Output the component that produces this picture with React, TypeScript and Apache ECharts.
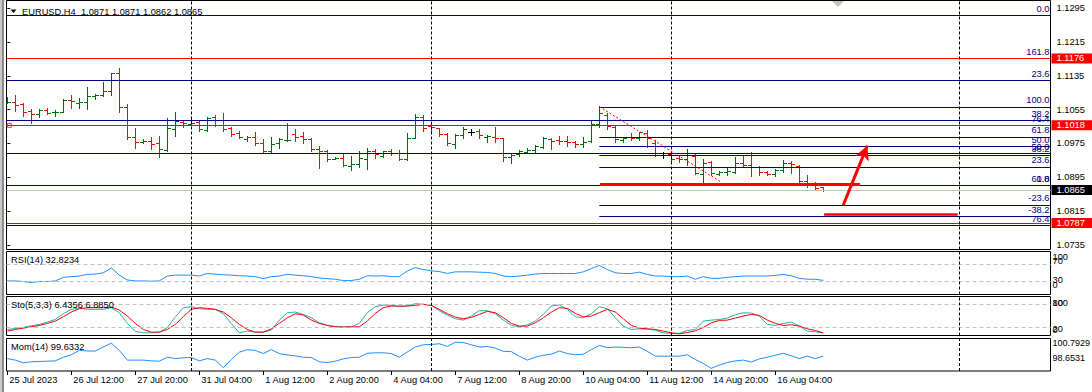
import React, { useEffect, useRef } from "react";
import * as echarts from "echarts";

// ---------- DATA ----------
const opens = [1.10699,1.10723,1.10691,1.10510,1.10447,1.10542,1.10487,1.10494,1.10778,1.10715,1.10723,1.10880,1.10888,1.10991,1.11408,1.10605,1.09911,1.09777,1.09817,1.09769,1.09596,1.10093,1.10258,1.10211,1.10258,1.10069,1.10376,1.10305,1.10108,1.09990,1.09848,1.09896,1.09754,1.09580,1.09754,1.09825,1.09966,1.09927,1.09856,1.09612,1.09565,1.09391,1.09407,1.09218,1.09257,1.09375,1.09565,1.09462,1.09565,1.09517,1.09383,1.09888,1.10368,1.10163,1.10108,1.09974,1.09746,1.09959,1.10014,1.10045,1.09911,1.09896,1.09872,1.09430,1.09494,1.09541,1.09588,1.09675,1.09856,1.09833,1.09809,1.09777,1.09730,1.09809,1.10203,1.10423,1.10148,1.09833,1.09911,1.09888,1.09990,1.09754,1.09478,1.09494,1.09415,1.09375,1.09462,1.09037,1.09305,1.09037,1.09068,1.09084,1.09281,1.09241,1.09202,1.09068,1.09037,1.09123,1.09281,1.09226,1.08863,1.08785,1.08710];
const highs = [1.10841,1.10904,1.10699,1.10557,1.10557,1.10581,1.10542,1.10794,1.10904,1.10833,1.11078,1.10928,1.11204,1.11424,1.11527,1.10684,1.10108,1.09848,1.09896,1.09927,1.10345,1.10487,1.10290,1.10329,1.10290,1.10368,1.10423,1.10463,1.10148,1.10045,1.09927,1.10022,1.09848,1.09896,1.09888,1.10242,1.10085,1.10029,1.09872,1.09691,1.09596,1.09438,1.09517,1.09454,1.09580,1.09635,1.09612,1.09580,1.09612,1.09596,1.09990,1.10447,1.10423,1.10226,1.10124,1.09990,1.09966,1.10132,1.10085,1.10085,1.09951,1.10132,1.09888,1.09494,1.09596,1.09651,1.09714,1.09896,1.09888,1.09935,1.09927,1.09809,1.09903,1.10297,1.10636,1.10463,1.10171,1.09888,1.09990,1.10029,1.10069,1.09833,1.09557,1.09557,1.09454,1.09620,1.09517,1.09383,1.09336,1.09100,1.09163,1.09439,1.09454,1.09541,1.09226,1.09100,1.09147,1.09360,1.09336,1.09241,1.09005,1.08832,1.08710];
const lows = [1.10699,1.10526,1.10408,1.10226,1.10368,1.10439,1.10400,1.10487,1.10581,1.10581,1.10573,1.10794,1.10880,1.10896,1.10487,1.09848,1.09651,1.09754,1.09612,1.09438,1.09572,1.09927,1.10148,1.10180,1.10053,1.10053,1.10171,1.10053,1.09927,1.09888,1.09817,1.09714,1.09517,1.09557,1.09635,1.09817,1.09817,1.09769,1.09580,1.09178,1.09344,1.09375,1.09218,1.09123,1.09202,1.09147,1.09399,1.09438,1.09478,1.09360,1.09360,1.09872,1.10045,1.10029,1.09935,1.09714,1.09651,1.09872,1.09951,1.09888,1.09777,1.09793,1.09344,1.09297,1.09454,1.09517,1.09557,1.09651,1.09620,1.09730,1.09699,1.09675,1.09675,1.09793,1.10132,1.10085,1.09777,1.09793,1.09833,1.09833,1.09675,1.09454,1.09399,1.09344,1.09320,1.09241,1.09021,1.08824,1.09005,1.09005,1.09005,1.09045,1.09202,1.08982,1.09005,1.09005,1.08989,1.09068,1.09060,1.08832,1.08729,1.08666,1.08620];
const closes = [1.10723,1.10660,1.10487,1.10447,1.10534,1.10479,1.10494,1.10778,1.10754,1.10723,1.10873,1.10896,1.10983,1.11408,1.10605,1.09911,1.09793,1.09817,1.09730,1.09612,1.10108,1.10282,1.10242,1.10226,1.10085,1.10360,1.10305,1.10093,1.09966,1.09896,1.09896,1.09754,1.09572,1.09738,1.09848,1.09840,1.09911,1.09848,1.09612,1.09580,1.09383,1.09407,1.09234,1.09257,1.09415,1.09580,1.09502,1.09565,1.09517,1.09383,1.09888,1.10368,1.10124,1.10132,1.09966,1.09754,1.09951,1.10085,1.10014,1.09951,1.09935,1.09872,1.09438,1.09478,1.09572,1.09596,1.09691,1.09872,1.09809,1.09809,1.09777,1.09730,1.09793,1.10203,1.10463,1.10171,1.09856,1.09872,1.09888,1.10014,1.09872,1.09478,1.09478,1.09383,1.09383,1.09478,1.09045,1.09281,1.09045,1.09068,1.09100,1.09281,1.09241,1.09202,1.09068,1.09037,1.09123,1.09281,1.09257,1.08863,1.08769,1.08700,1.08650];

const rsi = [31.6,31.6,30.1,27.8,30.1,30.0,31.6,39.9,41.5,43.0,46.8,47.4,50.4,61.7,45.1,33.9,31.6,31.6,30.9,31.6,43.0,45.1,45.1,45.1,43.0,48.9,47.4,45.9,45.1,43.6,43.0,41.5,36.9,41.5,43.0,46.8,45.1,43.6,41.5,38.4,36.9,35.4,32.4,32.4,35.4,43.6,43.0,43.6,41.5,41.5,54.9,62.5,58.0,55.0,53.4,48.9,52.7,52.7,52.7,51.9,51.2,48.9,43.0,41.5,43.0,45.1,47.4,48.9,48.9,48.9,48.9,48.9,52.7,60.2,67.7,58.0,50.4,48.9,48.9,51.9,46.6,43.0,43.0,41.5,41.5,43.0,35.4,41.5,37.6,37.6,39.9,41.5,43.0,43.0,43.0,43.0,44.3,46.8,43.6,37.6,35.4,35.4,32.8234];
const stoMain = [15.5,18.0,20.6,24.9,28.4,34.4,41.2,55.8,67.0,70.5,67.0,67.0,67.0,71.3,58.4,31.0,10.3,6.9,6.9,8.6,20.6,47.2,71.3,73.9,68.7,67.0,67.0,55.8,31.0,6.9,11.2,8.6,8.6,13.7,39.5,58.4,60.1,54.1,45.5,32.6,25.8,23.2,22.3,22.3,31.0,58.4,73.9,78.2,77.3,73.9,75.6,81.6,79.9,77.3,63.6,52.4,43.0,39.5,49.8,63.6,63.6,55.8,39.5,25.8,22.3,27.5,37.0,54.1,75.6,78.2,67.0,48.1,45.5,55.8,73.9,68.7,45.5,24.0,15.5,17.2,16.3,13.7,6.9,5.2,5.2,12.9,15.5,37.0,39.5,41.2,44.7,53.3,58.4,57.6,49.8,28.4,25.8,31.0,34.4,24.0,11.2,9.5,6.4356];
const stoSignal = [11.2,15.5,18.9,22.3,25.8,31.0,37.0,48.1,60.1,68.7,71.3,71.3,71.3,73.0,65.3,49.8,31.0,15.5,8.6,8.6,15.5,28.4,48.1,67.0,71.3,69.6,67.0,60.1,45.5,28.4,15.5,8.6,8.6,17.2,31.0,45.5,55.8,52.4,39.5,31.0,25.8,22.3,21.5,22.3,22.3,37.0,56.7,71.3,75.6,75.6,75.6,77.3,79.9,77.3,67.0,55.8,47.2,43.0,46.4,54.1,61.9,58.4,45.5,31.0,24.0,24.0,32.6,45.5,60.1,71.3,69.6,56.7,48.1,49.8,58.4,67.0,60.1,43.0,25.8,18.9,17.2,15.5,11.2,6.9,4.3,7.7,12.0,20.6,32.6,38.7,39.5,44.7,49.8,54.1,51.5,39.5,31.0,25.8,27.5,24.0,17.2,12.9,6.885];
const mom = [99.47,99.37,99.19,99.26,99.28,99.30,99.32,99.56,99.72,100.01,99.97,99.97,100.23,100.49,100.01,99.37,99.37,99.37,99.32,99.30,99.56,99.47,99.52,99.54,99.32,99.47,99.37,98.87,99.41,99.89,100.06,100.01,99.80,100.06,99.80,99.71,99.65,99.56,99.54,99.26,99.21,99.30,99.45,99.54,99.56,99.82,99.85,99.85,99.80,99.56,99.91,100.23,100.38,100.40,100.45,100.27,100.55,100.53,100.38,100.23,100.27,100.16,99.95,99.93,99.63,99.37,99.56,99.69,99.76,99.97,99.80,99.72,99.76,100.06,100.34,100.19,100.23,100.21,100.19,100.23,99.95,99.63,99.63,99.63,99.63,99.72,99.41,99.15,98.83,99.04,99.21,99.32,99.37,99.24,99.45,99.56,99.69,99.82,99.65,99.47,99.63,99.47,99.6332];

const timeTickIdx = [0, 8, 16, 24, 32, 40, 48, 56, 64, 72, 80, 88, 96];
const timeLabels = ["25 Jul 2023", "26 Jul 12:00", "27 Jul 20:00", "31 Jul 04:00", "1 Aug 12:00", "2 Aug 20:00", "4 Aug 04:00", "7 Aug 12:00", "8 Aug 20:00", "10 Aug 04:00", "11 Aug 12:00", "14 Aug 20:00", "16 Aug 04:00"];
const priceTicks = [1.0735, 1.0815, 1.0895, 1.0975, 1.1055, 1.1135, 1.1215, 1.1295];
const weekStarts = [23, 53, 83, 119];

const fib1Ratios = ["0.0", "23.6", "38.2", "50.0", "61.8", "76.4"];
const fib1Prices = [1.12788, 1.11244, 1.10298, 1.09518, 1.08755, 1.0781];
const fib2Start = 74;
const fib2Ratios = ["161.8", "100.0", "76.4", "61.8", "50.0", "38.2", "23.6", "0.0", "-23.6", "-38.2"];
const fib2Prices = [1.11758, 1.10613, 1.10176, 1.09906, 1.09687, 1.09468, 1.09198, 1.08761, 1.0830, 1.0803];
const redLevels = [1.1176, 1.1018, 1.0787];
const bidPrice = 1.0865;
const rsiLevels = [70, 30];
const stoLevels = [80, 20];
const rsiScale = [100, 70, 30, 0];
const stoScale = [100, 80, 20, 0];
const momScale = [100.7929, 98.6531];

// ---------- STYLE / LAYOUT ----------
const FF = "'Liberation Sans', Arial, sans-serif";
const FS = 9.3;
const UP = "#007000";
const DOWN = "#ff0000";
const DOJI = "#000000";
const NAVY = "#000080";
const X_MIN = -0.1;
const X_MAX = 130.4;
const P_MAX = 1.131311;
const P_MIN = 1.072432;
const GRID_H = [249, 43, 39, 32.5];
// vertical nudges (px, + = down) of the MT4-style scale labels of the indicator panes
const rsiNudge = [5.2, -3.4, -1.3, -9.8];
const stoNudge = [6.5, -1.8, 1.3, -6];
const momNudge = [4.8, -12.7];

function fibLabel(t: string) {
  return { show: true, position: "insideEndTop", formatter: t, color: NAVY, fontSize: FS, fontFamily: FF, distance: [1, 2] };
}
function boxLabel(t: string, bg: string) {
  return { show: true, position: "end", formatter: t, color: "#fff", backgroundColor: bg, padding: [0, 8, 0, 5], lineHeight: 10, distance: 1, fontSize: FS, fontFamily: FF };
}
const weekMarks = weekStarts.map((v) => ({ xAxis: v, lineStyle: { color: "#000", type: [3, 2], width: 1 } }));
const levelStyle = { color: "#c0c0c0", type: [4, 3], width: 1 };
const ML = { silent: true, symbol: ["none", "none"], precision: 6, animation: false, label: { show: false }, emphasis: { disabled: true } };

// one axis per scale label, placed at its value plus an MT4-like pixel nudge
function scaleAxes(gridIndex: number, min: number, max: number, values: number[], texts: string[], nudges: number[], fontSize: number) {
  const pxPerUnit = GRID_H[gridIndex] / (max - min);
  return values.map((v, k) => ({
    type: "value", gridIndex, position: "right", offset: 0, min, max,
    axisLine: { show: false }, splitLine: { show: false }, axisTick: { show: false },
    axisLabel: {
      customValues: [v - nudges[k] / pxPerUnit], formatter: () => texts[k], margin: 2, color: "#000", fontSize, fontFamily: FF,
    },
  }));
}

function buildOption() {
  const bars = opens.map((o, i) => [i, o, highs[i], lows[i], closes[i]]);
  const grids = [
    { left: 6.5, top: 0.5, width: 1044, height: GRID_H[0] },
    { left: 6.5, top: 251.5, width: 1044, height: GRID_H[1] },
    { left: 6.5, top: 296.5, width: 1044, height: GRID_H[2] },
    { left: 6.5, top: 338.5, width: 1044, height: GRID_H[3] },
  ].map((g) => ({ ...g, show: true, borderColor: "#000", borderWidth: 1, backgroundColor: "transparent", containLabel: false, outerBoundsMode: "none" }));

  const xAxis = grids.map((_, k) => ({
    type: "value",
    gridIndex: k,
    min: X_MIN,
    max: X_MAX,
    axisLine: { show: false },
    splitLine: { show: false },
    axisTick: k === 3 ? { show: true, customValues: timeTickIdx, length: 4, lineStyle: { color: "#000" } } : { show: false },
    axisLabel: k === 3
      ? { show: true, customValues: timeTickIdx, formatter: (v: number) => timeLabels[timeTickIdx.indexOf(Math.round(v))] ?? "", align: "left", margin: 4, color: "#000", fontSize: FS, fontFamily: FF, padding: [0, 0, 0, 2] }
      : { show: false },
  }));

  const yAxis: any[] = [
    {
      type: "value", gridIndex: 0, position: "right", min: P_MIN, max: P_MAX,
      axisLine: { show: false }, splitLine: { show: false },
      axisTick: { show: true, customValues: priceTicks, length: 3, lineStyle: { color: "#000" } },
      axisLabel: { customValues: priceTicks, formatter: (v: number) => v.toFixed(4), margin: 6, color: "#000", fontSize: FS, fontFamily: FF },
    },
    ...scaleAxes(1, 0, 100, rsiScale, rsiScale.map(String), rsiNudge, FS), // 1..4
    ...scaleAxes(2, 0, 100, stoScale, stoScale.map(String), stoNudge, FS), // 5..8
    ...scaleAxes(3, momScale[1], momScale[0], momScale, momScale.map((v) => v.toFixed(4)), momNudge, 9), // 9..10
  ];

  const levelMarks: any[] = [];
  fib1Ratios.forEach((r, k) => levelMarks.push({ yAxis: fib1Prices[k], lineStyle: { color: NAVY, width: 1, type: "solid" }, label: fibLabel(r) }));
  fib2Ratios.forEach((r, k) => levelMarks.push([
    { coord: [fib2Start, fib2Prices[k]], lineStyle: { color: NAVY, width: 1, type: "solid" }, label: fibLabel(r) },
    { coord: [X_MAX, fib2Prices[k]] },
  ]));
  levelMarks.push({ yAxis: bidPrice, lineStyle: { color: "#c0c0c0", width: 1, type: "solid" }, label: boxLabel(bidPrice.toFixed(4), "#000") });
  redLevels.forEach((p) => levelMarks.push({ yAxis: p, lineStyle: { color: "#ff0000", width: 1, type: "solid" }, label: boxLabel(p.toFixed(4), "#ff0000") }));
  weekMarks.forEach((m) => levelMarks.push(m));

  const objectMarks: any[] = [
    [{ coord: [74, 1.1062], lineStyle: { color: "#ff0000", width: 1, type: [2, 2] } }, { coord: [89.3, 1.0883] }],
    [{ coord: [74.1, 1.0878], lineStyle: { color: "#ff0000", width: 3, type: "solid" } }, { coord: [106.6, 1.0878] }],
    [{ coord: [102.1, 1.08076], lineStyle: { color: "#ff0000", width: 2.5, type: "solid" } }, { coord: [118.8, 1.08076] }],
    [
      { coord: [104.5, 1.08295], symbol: "none", lineStyle: { color: "#ff0000", width: 3, type: "solid" } },
      { coord: [107.5, 1.09698], symbol: "arrow", symbolSize: [11, 14] },
    ],
  ];

  const series: any[] = [
    { type: "line", xAxisIndex: 0, yAxisIndex: 0, data: [], silent: true, z: 1, markLine: { ...ML, data: levelMarks } },
    {
      type: "scatter", xAxisIndex: 0, yAxisIndex: 0, z: 2, silent: true,
      data: [[0.25, redLevels[1]]], symbol: "rect", symbolSize: 4,
      itemStyle: { color: "#fff", borderColor: "#ff0000", borderWidth: 1 },
    },
    {
      type: "custom", xAxisIndex: 0, yAxisIndex: 0, z: 3, silent: true, clip: true,
      data: bars,
      encode: { x: 0, y: [1, 2, 3, 4] },
      renderItem: (_p: any, api: any) => {
        const i = api.value(0), o = api.value(1), h = api.value(2), l = api.value(3), c = api.value(4);
        const ph = api.coord([i, h]), pl = api.coord([i, l]), po = api.coord([i, o]), pc = api.coord([i, c]);
        const x = Math.floor(ph[0]) + 0.5;
        const yh = Math.round(ph[1]), yl = Math.round(pl[1]) + 1;
        const yo = Math.round(po[1]) + 0.5, yc = Math.round(pc[1]) + 0.5;
        const color = c > o ? UP : c < o ? DOWN : DOJI;
        const st = { stroke: color, lineWidth: 1 };
        return {
          type: "group",
          children: [
            { type: "line", shape: { x1: x, y1: yh, x2: x, y2: yl }, style: st },
            { type: "line", shape: { x1: x - 3.5, y1: yo, x2: x - 0.5, y2: yo }, style: st },
            { type: "line", shape: { x1: x + 0.5, y1: yc, x2: x + 3.5, y2: yc }, style: st },
          ],
        };
      },
    },
    { type: "line", xAxisIndex: 0, yAxisIndex: 0, data: [], silent: true, z: 4, markLine: { ...ML, data: objectMarks } },
    {
      type: "line", xAxisIndex: 1, yAxisIndex: 1, data: rsi.map((v, i) => [i, v]), symbol: "none", silent: true,
      lineStyle: { color: "#1e90ff", width: 1 },
      markLine: { ...ML, data: [...rsiLevels.map((v) => ({ yAxis: v, lineStyle: levelStyle })), ...weekMarks] },
    },
    {
      type: "line", xAxisIndex: 2, yAxisIndex: 5, data: stoMain.map((v, i) => [i, v]), symbol: "none", silent: true,
      lineStyle: { color: "#20b2aa", width: 1 },
      markLine: { ...ML, data: [...stoLevels.map((v) => ({ yAxis: v, lineStyle: levelStyle })), ...weekMarks] },
    },
    {
      type: "line", xAxisIndex: 2, yAxisIndex: 5, data: stoSignal.map((v, i) => [i, v]), symbol: "none", silent: true,
      lineStyle: { color: "#ff0000", width: 1 },
    },
    {
      type: "line", xAxisIndex: 3, yAxisIndex: 9, data: mom.map((v, i) => [i, v]), symbol: "none", silent: true,
      lineStyle: { color: "#1e90ff", width: 1 },
      markLine: { ...ML, data: weekMarks },
    },
  ];

  const txt = (x: number, y: number, text: string) => ({
    type: "text", x, y, silent: true, z: 10,
    style: { text, fill: "#000", fontSize: FS, fontFamily: FF, verticalAlign: "middle", align: "left" },
  });

  const graphic = [
    { type: "rect", shape: { x: 0, y: 0, width: 2, height: 392 }, style: { fill: "#c8c8c8" }, silent: true },
    { type: "rect", shape: { x: 2, y: 0, width: 2, height: 392 }, style: { fill: "#8a8a8a" }, silent: true },
    { type: "polygon", shape: { points: [[10.5, 9.5], [16.5, 9.5], [13.5, 13]] }, style: { fill: "#000" }, silent: true, z: 10 },
    { type: "polygon", shape: { points: [[832, 1], [844, 1], [838, 7]] }, style: { fill: "#c0c0c0" }, silent: true, z: 10 },
    txt(22, 11.5, `EURUSD.H4\u00a0 ${opens[102].toFixed(4)} ${highs[102].toFixed(4)} ${lows[102].toFixed(4)} ${closes[102].toFixed(4)}`),
    txt(11, 260, `RSI(14) ${rsi[102].toFixed(4)}`),
    txt(11, 305, `Sto(5,3,3) ${stoMain[102].toFixed(4)} ${stoSignal[102].toFixed(4)}`),
    txt(11, 347, `Mom(14) ${mom[102].toFixed(4)}`),
  ];

  return {
    animation: false,
    backgroundColor: "#ffffff",
    textStyle: { fontFamily: FF, fontSize: FS },
    grid: grids,
    xAxis,
    yAxis,
    series,
    graphic,
  };
}

export default function App() {
  const ref = useRef<HTMLDivElement>(null);
  useEffect(() => {
    if (!ref.current) return;
    const chart = echarts.init(ref.current, undefined, { renderer: "svg", width: 1092, height: 392 });
    chart.setOption(buildOption() as any);
    return () => chart.dispose();
  }, []);
  return <div ref={ref} style={{ position: "fixed", left: 0, top: 0, width: 1092, height: 392, background: "#fff" }} />;
}
